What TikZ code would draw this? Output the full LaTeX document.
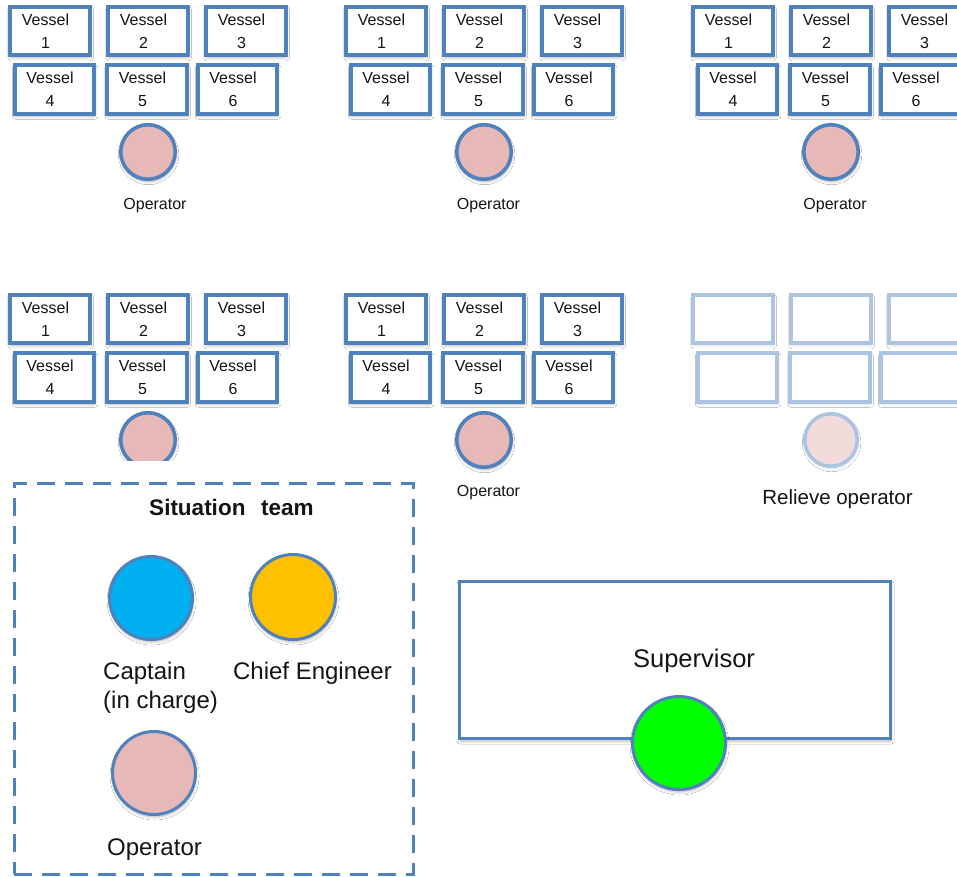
\documentclass[tikz,border=0pt]{standalone}
\usepackage{fontspec}
\setmainfont{Liberation Sans}
\usetikzlibrary{shadows.blur}

\definecolor{edgeblue}{RGB}{79,129,189}
\definecolor{rosefill}{RGB}{230,185,184}
\definecolor{paleedge}{RGB}{170,196,226}
\definecolor{palerose}{RGB}{242,220,219}
\definecolor{captaincol}{RGB}{0,176,240}
\definecolor{chiefcol}{RGB}{255,192,0}
\definecolor{supercol}{RGB}{0,255,0}
\definecolor{inkcol}{RGB}{20,20,20}

% two-line vessel caption, nudged slightly left inside its box
\newcommand\vslabel[1]{Vessel\hspace*{9pt}\\#1\hspace*{9pt}}

\tikzset{
  softshadow/.style={blur shadow={shadow xshift=0.6pt, shadow yshift=-2.5pt,
      shadow blur radius=3pt, shadow opacity=28}},
  faintshadow/.style={blur shadow={shadow xshift=0.6pt, shadow yshift=-2.5pt,
      shadow blur radius=3pt, shadow opacity=12}},
  vesselbox/.style={draw=edgeblue, line width=3.6pt, fill=white, minimum width=79.5pt,
      minimum height=48.5pt, inner sep=0pt, align=center, text=inkcol,
      font=\fontsize{16}{23}\selectfont, softshadow},
  palebox/.style={draw=paleedge, line width=3.6pt, fill=white, minimum width=79.5pt,
      minimum height=48.5pt, inner sep=0pt, faintshadow},
  opcircle/.style={circle, draw=edgeblue, line width=3.6pt, fill=rosefill,
      minimum size=54.5pt, inner sep=0pt, softshadow},
  palecircle/.style={circle, draw=paleedge, line width=3.6pt, fill=palerose,
      minimum size=52.5pt, inner sep=0pt, faintshadow},
  bigcircle/.style={circle, draw=edgeblue, line width=3pt, inner sep=0pt, softshadow},
  smalltext/.style={anchor=base, inner sep=0pt, text=inkcol, font=\fontsize{16}{19}\selectfont},
  bigtext/.style={inner sep=0pt, text=inkcol, font=\fontsize{24}{29}\selectfont},
  teambox/.style={draw=edgeblue, line width=3pt, dash pattern=on 18pt off 10pt},
  superbox/.style={draw=edgeblue, line width=3.2pt, fill=white, inner sep=0pt, softshadow},
}

% six vessel boxes of one console: name prefix, x offset, y offset
\newcommand\vesselgroup[3]{%
  \foreach \k/\bx/\by in {1/50/31,2/148/31,3/246/31,4/54.5/89.5,5/147/89.5,6/237.5/89.5}{
    \node[vesselbox] (#1v\k) at (#2+\bx, #3+\by) {\vslabel{\k}};
  }%
}

\begin{document}
\begin{tikzpicture}[x=1pt, y=-1pt]
  \clip (0,0) rectangle (957,876);
  \fill[white] (0,0) rectangle (957,876);

  % consoles, top row
  \vesselgroup{ga}{0}{0}
  \node[opcircle] (gaop) at (148,152) {};
  \node[smalltext] (gatext) at (155,209) {Operator};

  \vesselgroup{gb}{336}{0}
  \node[opcircle] (gbop) at (484,152) {};
  \node[smalltext] (gbtext) at (488.5,209) {Operator};

  \vesselgroup{gc}{683}{0}
  \node[opcircle] (gcop) at (831,152) {};
  \node[smalltext] (gctext) at (835,209) {Operator};

  % consoles, bottom row
  \vesselgroup{gd}{0}{288}
  \begin{scope}
    \clip (0,400) rectangle (420,460);
    \node[opcircle] (gdop) at (148,440) {};
  \end{scope}

  \vesselgroup{ge}{336}{288}
  \node[opcircle] (geop) at (484,440) {};
  \node[smalltext] (getext) at (488.5,496) {Operator};

  % vacant console for the relieve operator
  \foreach \k/\bx/\by in {1/50/31,2/148/31,3/246/31,4/54.5/89.5,5/147/89.5,6/237.5/89.5}{
    \node[palebox] (gfv\k) at (683+\bx, 288+\by) {};
  }
  \node[palecircle] (gfop) at (831,440) {};
  \node[anchor=base, inner sep=0pt, text=inkcol, font=\fontsize{20.5}{24}\selectfont]
    (gftext) at (837.5,504) {Relieve operator};

  % situation team
  \node[teambox, minimum width=399pt, minimum height=391pt] (team) at (213.5,678.5) {};
  \node[anchor=base, inner sep=0pt, text=inkcol, font=\fontsize{22.5}{26}\bfseries]
    (teamtitle) at (231.5,515) {Situation\hspace{0.7em}team};

  \node[bigcircle, fill=captaincol, minimum size=83pt] (captain) at (151,598) {};
  \node[bigtext, anchor=north west, align=left] (captaintext) at (103,662)
    {Captain\\(in charge)};

  \node[bigcircle, fill=chiefcol, minimum size=85pt] (chief) at (293,597) {};
  \node[bigtext, anchor=base] (chieftext) at (312.5,679) {Chief Engineer};

  \node[bigcircle, fill=rosefill, minimum size=83pt] (teamop) at (154,773) {};
  \node[bigtext, anchor=base] (teamoptext) at (154.5,855) {Operator};

  % supervisor
  \node[superbox, minimum width=431pt, minimum height=157pt] (supervisor) at (675,660) {};
  \node[anchor=base, inner sep=0pt, text=inkcol, font=\fontsize{25.5}{30}\selectfont]
    (supertext) at (694,667) {Supervisor};
  \node[bigcircle, fill=supercol, minimum size=93pt] (superop) at (679,743) {};
\end{tikzpicture}
\end{document}
